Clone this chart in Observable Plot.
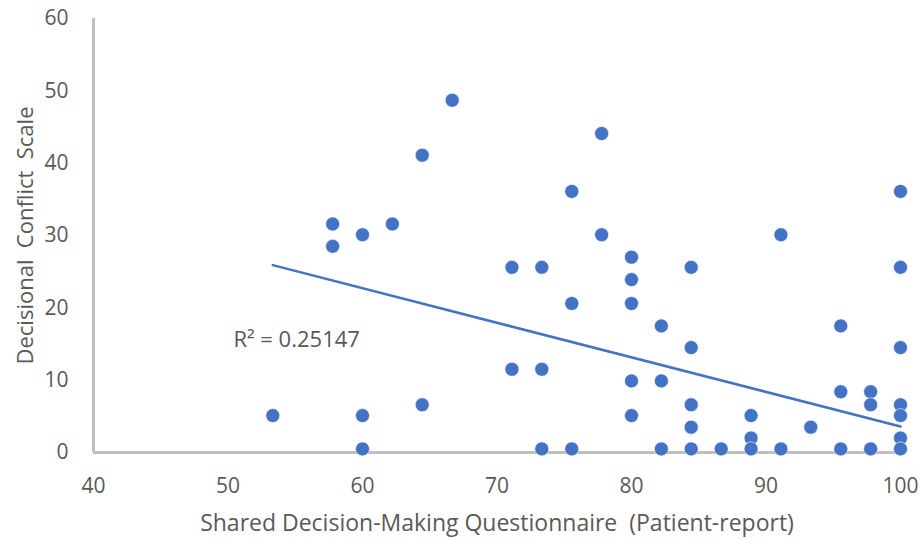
<!DOCTYPE html>
<html><head><meta charset="utf-8">
<script src="https://cdn.jsdelivr.net/npm/d3@7"></script>
<script src="https://cdn.jsdelivr.net/npm/@observablehq/plot@0.6"></script>
<style>body{margin:0;background:#fff;}</style>
</head><body><div id="chart"></div>
<script>
// Shared Decision-Making Questionnaire (x) vs Decisional Conflict Scale (y)
const sdmX = [53.33, 57.78, 57.78, 60, 60, 60, 62.22, 64.44, 64.44, 66.67,
  71.11, 71.11, 73.33, 73.33, 73.33, 75.56, 75.56, 75.56, 77.78, 77.78,
  80, 80, 80, 80, 80, 82.22, 82.22, 82.22, 84.44, 84.44, 84.44, 84.44, 84.44,
  86.67, 88.89, 88.89, 88.89, 91.11, 91.11, 93.33, 95.56, 95.56, 95.56,
  97.78, 97.78, 97.78, 100, 100, 100, 100, 100, 100, 100];
const dcsY = [5.1, 31.6, 28.5, 30.1, 5.1, 0.5, 31.6, 41.1, 6.6, 48.7,
  25.6, 11.5, 25.6, 11.5, 0.5, 36.1, 20.6, 0.5, 44.1, 30.1,
  27.0, 23.9, 20.6, 9.9, 5.1, 17.5, 9.9, 0.5, 25.6, 14.5, 6.6, 3.5, 0.5,
  0.5, 5.1, 2.0, 0.5, 30.1, 0.5, 3.5, 17.5, 8.4, 0.5,
  8.4, 6.6, 0.5, 36.1, 25.6, 14.5, 6.6, 5.1, 2.0, 0.5];
const xTicks = [40, 50, 60, 70, 80, 90, 100];
const yTicks = [0, 10, 20, 30, 40, 50, 60];
const trendX = [53.33, 100];
const trendY = [25.9, 3.6];
const r2Text = "R² = 0.25147";
const xTitle = "Shared Decision-Making Questionnaire  (Patient-report)";
const yTitle = "Decisional  Conflict  Scale";

const points = sdmX.map((x, i) => ({x, y: dcsY[i]}));
const trend = trendX.map((x, i) => ({x, y: trendY[i]}));

const chart = Plot.plot({
  width: 921, height: 540,
  marginLeft: 93, marginRight: 21, marginTop: 18, marginBottom: 88,
  style: {fontFamily: "'Open Sans', sans-serif", fontSize: "21px", color: "#595959", background: "#fff"},
  x: {domain: [40, 100], ticks: xTicks, tickSize: 0, tickPadding: 26, label: null},
  y: {domain: [0, 60], ticks: yTicks, tickSize: 0, tickPadding: 25, label: null},
  marks: [
    Plot.ruleX([40], {stroke: "#bfbfbf", strokeWidth: 3}),
    Plot.ruleY([0], {stroke: "#bfbfbf", strokeWidth: 3}),
    Plot.dot(points, {x: "x", y: "y", r: 7, fill: "#4472C4", stroke: "#fff", strokeWidth: 0.6}),
    Plot.line(trend, {x: "x", y: "y", stroke: "#4472C4", strokeWidth: 2.5}),
    Plot.text([{x: 50.4, y: 15.6, t: r2Text}], {x: "x", y: "y", text: "t", textAnchor: "start", fontSize: 22}),
    Plot.text([xTitle], {frameAnchor: "bottom", textAnchor: "middle", lineAnchor: "middle", dy: 71, dx: 0, fontSize: 23}),
    Plot.text([yTitle], {frameAnchor: "left", textAnchor: "middle", lineAnchor: "middle", rotate: -90, dx: -68, fontSize: 22})
  ]
});
document.getElementById("chart").append(chart);
</script>
</body></html>
